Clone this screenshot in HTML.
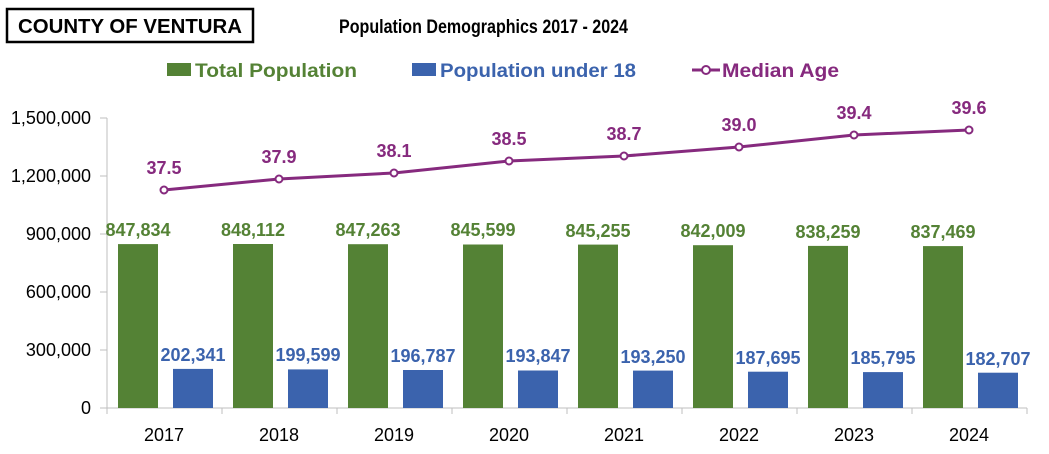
<!DOCTYPE html>
<html><head><meta charset="utf-8"><style>
body{margin:0;background:#fff}
svg text{font-family:"Liberation Sans",sans-serif}
.n{font-family:"Liberation Sans Narrow","Liberation Sans",sans-serif;font-weight:bold}
.g{fill:#548235;font-size:18px;font-weight:bold;text-anchor:middle}
.b{fill:#3b63ad;font-size:18px;font-weight:bold;text-anchor:middle}
.p{fill:#862a7e;font-size:18px;font-weight:bold;text-anchor:middle}
.y{fill:#000;font-size:18px;text-anchor:middle}
</style></head><body>
<svg width="1049" height="449" xmlns="http://www.w3.org/2000/svg">
<rect x="7" y="9" width="246" height="33" fill="none" stroke="#000" stroke-width="2.5"/>
<text x="18" y="33" class="n" font-size="20" textLength="224" lengthAdjust="spacingAndGlyphs">COUNTY OF VENTURA</text>
<text x="339" y="33" class="n" font-size="19" textLength="289" lengthAdjust="spacingAndGlyphs">Population Demographics 2017 - 2024</text>
<rect x="167" y="63" width="24" height="13" fill="#548235"/>
<text x="195" y="77" class="n" font-size="19" fill="#548235" textLength="162" lengthAdjust="spacingAndGlyphs">Total Population</text>
<rect x="412" y="63" width="24" height="13" fill="#3b63ad"/>
<text x="440" y="77" class="n" font-size="19" fill="#3b63ad" textLength="196" lengthAdjust="spacingAndGlyphs">Population under 18</text>
<line x1="692" y1="70" x2="720" y2="70" stroke="#862a7e" stroke-width="3"/>
<circle cx="706" cy="70" r="4" fill="#fff" stroke="#862a7e" stroke-width="2"/>
<text x="722" y="77" class="n" font-size="19" fill="#862a7e" textLength="117" lengthAdjust="spacingAndGlyphs">Median Age</text>
<g font-size="18" fill="#000" text-anchor="end">
<text x="91" y="124">1,500,000</text><text x="91" y="182">1,200,000</text><text x="91" y="240">900,000</text>
<text x="91" y="298">600,000</text><text x="91" y="356">300,000</text><text x="91" y="414">0</text>
</g>
<g stroke="#bfbfbf" stroke-width="1">
<line x1="107" y1="118" x2="107" y2="408"/><line x1="100" y1="118" x2="107" y2="118"/>
<line x1="100" y1="176" x2="107" y2="176"/><line x1="100" y1="234" x2="107" y2="234"/>
<line x1="100" y1="292" x2="107" y2="292"/><line x1="100" y1="350" x2="107" y2="350"/>
<line x1="100" y1="408" x2="1027" y2="408"/>
<line x1="107" y1="408" x2="107" y2="414"/><line x1="222" y1="408" x2="222" y2="414"/><line x1="337" y1="408" x2="337" y2="414"/>
<line x1="452" y1="408" x2="452" y2="414"/><line x1="567" y1="408" x2="567" y2="414"/>
<line x1="682" y1="408" x2="682" y2="414"/><line x1="797" y1="408" x2="797" y2="414"/>
<line x1="912" y1="408" x2="912" y2="414"/><line x1="1027" y1="408" x2="1027" y2="414"/>
</g>
<g fill="#548235">
<rect x="118" y="244.1" width="40" height="163.9"/><rect x="233" y="244.0" width="40" height="164"/>
<rect x="348" y="244.2" width="40" height="163.8"/><rect x="463" y="244.5" width="40" height="163.5"/>
<rect x="578" y="244.6" width="40" height="163.4"/><rect x="693" y="245.2" width="40" height="162.8"/>
<rect x="808" y="245.9" width="40" height="162.1"/><rect x="923" y="246.1" width="40" height="161.9"/>
</g>
<g fill="#3b63ad">
<rect x="173" y="368.9" width="40" height="39.1"/><rect x="288" y="369.4" width="40" height="38.6"/>
<rect x="403" y="370.0" width="40" height="38"/><rect x="518" y="370.5" width="40" height="37.5"/>
<rect x="633" y="370.6" width="40" height="37.4"/><rect x="748" y="371.7" width="40" height="36.3"/>
<rect x="863" y="372.1" width="40" height="35.9"/><rect x="978" y="372.7" width="40" height="35.3"/>
</g>
<text class="g" x="138" y="236">847,834</text><text class="g" x="253" y="236">848,112</text>
<text class="g" x="368" y="236">847,263</text><text class="g" x="483" y="236">845,599</text>
<text class="g" x="598" y="237">845,255</text><text class="g" x="713" y="237">842,009</text>
<text class="g" x="828" y="238">838,259</text><text class="g" x="943" y="238">837,469</text>
<text class="b" x="193" y="361">202,341</text><text class="b" x="308" y="361">199,599</text>
<text class="b" x="423" y="362">196,787</text><text class="b" x="538" y="362">193,847</text>
<text class="b" x="653" y="363">193,250</text><text class="b" x="768" y="364">187,695</text>
<text class="b" x="883" y="364">185,795</text><text class="b" x="998" y="365">182,707</text>
<text class="y" x="164" y="441">2017</text><text class="y" x="279" y="441">2018</text>
<text class="y" x="394" y="441">2019</text><text class="y" x="509" y="441">2020</text>
<text class="y" x="624" y="441">2021</text><text class="y" x="739" y="441">2022</text>
<text class="y" x="854" y="441">2023</text><text class="y" x="969" y="441">2024</text>
<text class="p" x="164" y="174">37.5</text><text class="p" x="279" y="163">37.9</text>
<text class="p" x="394" y="157">38.1</text><text class="p" x="509" y="145">38.5</text>
<text class="p" x="624" y="140">38.7</text><text class="p" x="739" y="131">39.0</text>
<text class="p" x="854" y="119">39.4</text><text class="p" x="969" y="114">39.6</text>
<polyline points="164,190 279,179 394,173 509,161 624,156 739,147 854,135 969,130" fill="none" stroke="#862a7e" stroke-width="3"/>
<g fill="#fff" stroke="#862a7e" stroke-width="2">
<circle cx="164" cy="190" r="3.5"/><circle cx="279" cy="179" r="3.5"/><circle cx="394" cy="173" r="3.5"/>
<circle cx="509" cy="161" r="3.5"/><circle cx="624" cy="156" r="3.5"/><circle cx="739" cy="147" r="3.5"/>
<circle cx="854" cy="135" r="3.5"/><circle cx="969" cy="130" r="3.5"/>
</g>
</svg>
</body></html>
